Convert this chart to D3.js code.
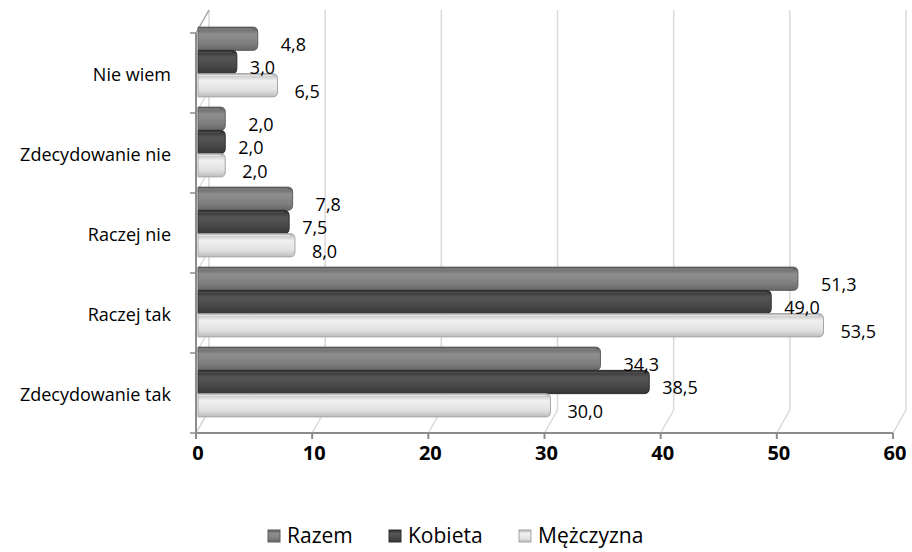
<!DOCTYPE html>
<html><head><meta charset="utf-8">
<script src="https://cdn.jsdelivr.net/npm/d3@7"></script>
<style>body{margin:0;background:#fff}svg{display:block}</style>
</head><body><svg id="c" width="912" height="552"></svg>
<script>
const categories = ["Nie wiem", "Zdecydowanie nie", "Raczej nie", "Raczej tak", "Zdecydowanie tak"];
const seriesNames = ["Razem", "Kobieta", "Mężczyzna"];
const razem = [4.8, 2.0, 7.8, 51.3, 34.3];
const kobieta = [3.0, 2.0, 7.5, 49.0, 38.5];
const mezczyzna = [6.5, 2.0, 8.0, 53.5, 30.0];
const xTicks = [0, 10, 20, 30, 40, 50, 60];

const seriesValues = [razem, kobieta, mezczyzna];
const fmt = v => v.toFixed(1).replace(".", ",");

const svg = d3.select("#c");
const font = "'Open Sans', 'Noto Sans', sans-serif";
const x = d3.scaleLinear().domain([0, 60]).range([196, 893]);
const y = d3.scaleBand().domain(categories).range([33, 433]);
const ys = d3.scaleBand().domain(seriesNames).range([0, y.bandwidth()]).paddingOuter(0.22);
const back = {dx: 13, dy: -23};
const mid = {dx: 5, dy: -11};

const defs = svg.append("defs");
const grads = [
  ["#5a5a5a", "#8f8f8f", "#7f7f7f", "#666"],
  ["#2e2e2e", "#565656", "#474747", "#353535"],
  ["#b5b5b5", "#f0f0f0", "#e2e2e2", "#bdbdbd"]
];
grads.forEach((g, i) => {
  const lg = defs.append("linearGradient").attr("id", "g" + i).attr("x1", 0).attr("y1", 0).attr("x2", 0).attr("y2", 1);
  [0, 0.3, 0.7, 1].forEach((o, j) => lg.append("stop").attr("offset", o).attr("stop-color", g[j]));
});
const strokes = ["#5e5e5e", "#2f2f2f", "#a5a5a5"];

const grid = svg.append("g").attr("stroke", "#d9d9d9").attr("stroke-width", 1.5).attr("fill", "none");
xTicks.forEach(t => {
  grid.append("line").attr("x1", x(t) + back.dx).attr("x2", x(t) + back.dx)
    .attr("y1", y.range()[0] + back.dy).attr("y2", y.range()[1] + back.dy);
  grid.append("line").attr("x1", x(t)).attr("y1", y.range()[1])
    .attr("x2", x(t) + back.dx).attr("y2", y.range()[1] + back.dy);
});
grid.append("line").attr("x1", x(0)).attr("y1", y.range()[0]).attr("x2", x(0) + back.dx).attr("y2", y.range()[0] + back.dy).attr("stroke", "#a6a6a6");
categories.forEach(c => {
  grid.append("line").attr("x1", x(0)).attr("y1", y(c) + y.bandwidth())
    .attr("x2", x(0) + back.dx).attr("y2", y(c) + y.bandwidth() + back.dy);
});

const barsG = svg.append("g");
categories.forEach((c, ci) => {
  seriesNames.forEach((s, si) => {
    const v = seriesValues[si][ci];
    const h = ys.bandwidth();
    const top = y(c) + ys(s) + mid.dy;
    const x0 = x(0) + 2;
    const xe = x(v) + mid.dx + 1;
    const r = Math.min(5, (xe - x0) / 2);
    const p = `M${x0},${top} H${xe - r} Q${xe},${top} ${xe},${top + r} V${top + h - r} Q${xe},${top + h} ${xe - r},${top + h} H${x0} Z`;
    barsG.append("path").attr("d", p).attr("fill", `url(#g${si})`).attr("stroke", strokes[si]).attr("stroke-width", 1);
    barsG.append("line").attr("x1", x0).attr("x2", xe - r).attr("y1", top + 2).attr("y2", top + 2)
      .attr("stroke", si === 2 ? "#fff" : d3.color(grads[si][1]).brighter(0.3)).attr("stroke-width", 1).attr("opacity", 0.6);
  });
});

const axisColor = "#8c8c8c";
svg.append("line").attr("x1", x(0)).attr("x2", x(0)).attr("y1", y.range()[0]).attr("y2", y.range()[1])
  .attr("stroke", axisColor).attr("stroke-width", 2);
svg.append("line").attr("x1", x(0)).attr("x2", x(60)).attr("y1", y.range()[1]).attr("y2", y.range()[1])
  .attr("stroke", axisColor).attr("stroke-width", 2);
xTicks.forEach(t => {
  svg.append("line").attr("x1", x(t)).attr("x2", x(t)).attr("y1", y.range()[1]).attr("y2", y.range()[1] + 6)
    .attr("stroke", axisColor).attr("stroke-width", 2);
  svg.append("text").attr("x", x(t) + 2).attr("y", 460).attr("text-anchor", "middle")
    .attr("font-family", font).attr("font-weight", "bold").attr("font-size", 20).attr("fill", "#000").text(t);
});
const bounds = categories.map(c => y(c)).concat([y.range()[1]]);
bounds.forEach(b => {
  svg.append("line").attr("x1", x(0) - 6).attr("x2", x(0)).attr("y1", b).attr("y2", b)
    .attr("stroke", axisColor).attr("stroke-width", 1.5);
});
categories.forEach(c => {
  svg.append("text").attr("x", 171).attr("y", y(c) + y.bandwidth() / 2 + 2).attr("dy", "0.35em")
    .attr("text-anchor", "end").attr("font-family", font).attr("font-size", 18).attr("fill", "#000").text(c);
});

const labelOffsets = [24, 14, 18];
categories.forEach((c, ci) => {
  seriesNames.forEach((s, si) => {
    const v = seriesValues[si][ci];
    svg.append("text").attr("x", x(v) + mid.dx + labelOffsets[si])
      .attr("y", y(c) + ys(s) + mid.dy + ys.bandwidth() / 2 + 6).attr("dy", "0.35em")
      .attr("font-family", font).attr("font-size", 18).attr("fill", "#000").text(fmt(v));
  });
});

const legX = [268, 389, 519];
const lg = svg.append("g");
seriesNames.forEach((s, i) => {
  lg.append("rect").attr("x", legX[i]).attr("y", 530).attr("width", 12).attr("height", 12)
    .attr("fill", `url(#g${i})`).attr("stroke", strokes[i]);
  lg.append("text").attr("x", legX[i] + 19).attr("y", 543)
    .attr("font-family", font).attr("font-size", 21).attr("fill", "#000").text(s);
});
</script></body></html>
